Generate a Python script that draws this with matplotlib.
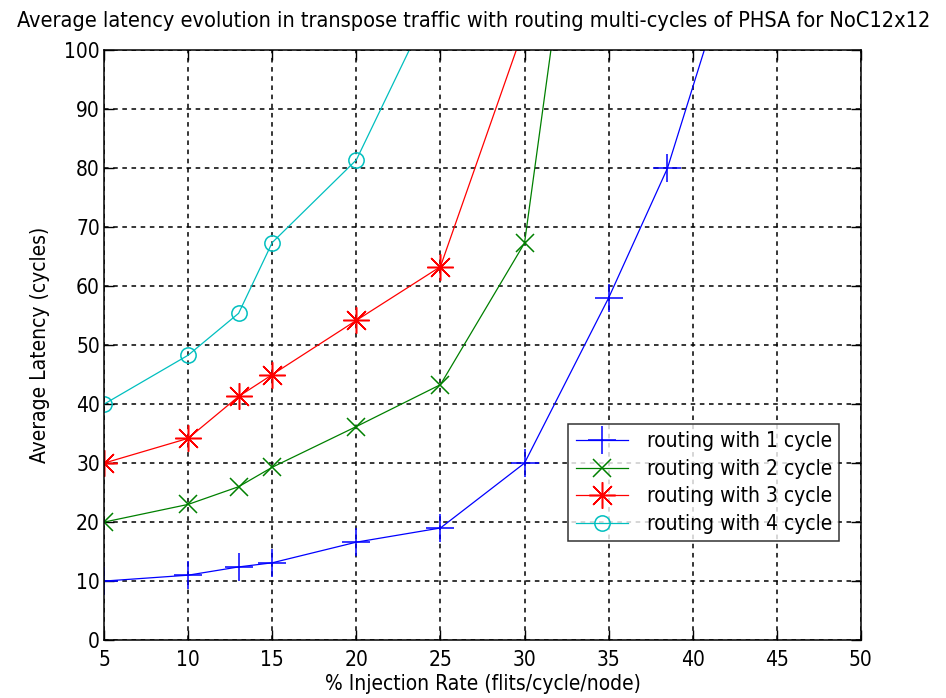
import matplotlib
matplotlib.use("Agg")
import matplotlib.pyplot as plt

# Injection rates (%) and measured average latency (cycles) per routing depth
rate_1 = [5, 10, 13, 15, 20, 25, 30, 35, 38.5, 42]
lat_1 = [10, 11, 12.4, 13.1, 16.6, 19, 30, 58, 80, 112]

rate_2 = [5, 10, 13, 15, 20, 25, 30, 32]
lat_2 = [20, 23, 26, 29.3, 36.2, 43.3, 67.3, 109]

rate_3 = [5, 10, 13, 15, 20, 25, 30]
lat_3 = [30, 34.2, 41.3, 45, 54.2, 63.3, 104]

rate_4 = [5, 10, 13, 15, 20, 25]
lat_4 = [40, 48.3, 55.4, 67.4, 81.4, 111]

labels = ["routing with 1 cycle", "routing with 2 cycle",
          "routing with 3 cycle", "routing with 4 cycle"]
x_ticks = [5, 10, 15, 20, 25, 30, 35, 40, 45, 50]
y_ticks = [0, 10, 20, 30, 40, 50, 60, 70, 80, 90, 100]

plt.rcParams["font.family"] = ["DejaVu Sans"]
plt.rcParams["font.stretch"] = "condensed"
plt.rcParams["font.size"] = 14

fig = plt.figure(figsize=(9.46, 6.98), dpi=100)
ax = fig.add_axes([0.110, 0.083, 0.800, 0.845])

star = (8, 2, 0)
series = [
    (rate_1, lat_1, "#0000ff", "+", 20),
    (rate_2, lat_2, "#008000", "x", 13),
    (rate_3, lat_3, "#ff0000", star, 19),
    (rate_4, lat_4, "#00bfbf", "o", 11),
]
for (xs, ys, col, mk, ms), lab in zip(series, labels):
    ax.plot(xs, ys, color=col, lw=0.9, marker=mk, markersize=ms,
            markerfacecolor="none", markeredgecolor=col, markeredgewidth=1.1,
            label=lab)

ax.set_xlim(5, 50)
ax.set_ylim(0, 100)
ax.set_xticks(x_ticks)
ax.set_yticks(y_ticks)
ax.grid(True, color="black", linestyle=(0, (3, 3)), linewidth=1.1)
ax.tick_params(direction="in", length=7, width=1, top=True, right=True,
               labelsize=15)
ax.tick_params(axis="x", pad=7)
ax.tick_params(axis="y", pad=3)
for s in ax.spines.values():
    s.set_linewidth(1.1)

ax.set_title("Average latency evolution in transpose traffic with routing multi-cycles of PHSA for NoC12x12",
             fontsize=15.6, pad=17, x=0.488)
ax.set_xlabel("% Injection Rate (flits/cycle/node)", fontsize=15, labelpad=3)
ax.set_ylabel("Average Latency (cycles)", fontsize=15, labelpad=10)

leg = ax.legend(loc="lower right", bbox_to_anchor=(0.985, 0.150), fontsize=15,
                handlelength=2.5, frameon=True, fancybox=False, edgecolor="black",
                borderpad=0.35, labelspacing=0.36, handletextpad=0.9)
leg.get_frame().set_linewidth(1.1)

fig.savefig("out.png", dpi=100)
